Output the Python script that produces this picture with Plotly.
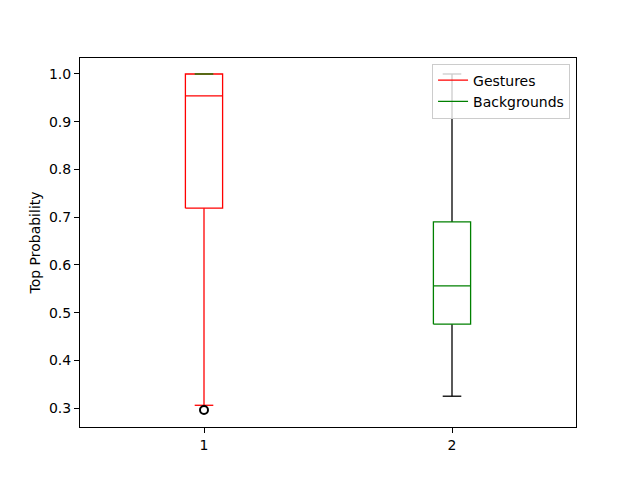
import plotly.graph_objects as go

# Data (box statistics)
positions = [1, 2]
series_names = ["Gestures", "Backgrounds"]
q1 = [0.719, 0.476]
median = [0.954, 0.556]
q3 = [1.0, 0.690]
whisker_low = [0.306, 0.325]
whisker_high = [1.0, 1.0]
fliers_x = [1]
fliers_y = [0.296]
yticks = [0.3, 0.4, 0.5, 0.6, 0.7, 0.8, 0.9, 1.0]

box_colors = ["red", "green"]
whisker_colors = ["red", "black"]
low_cap_colors = ["red", "black"]
high_cap_colors = ["green", "black"]
median_colors = ["red", "green"]

box_half = 0.075
cap_half = 0.0375
lw = 1.3

fig = go.Figure()

for i, p in enumerate(positions):
    # whiskers
    fig.add_trace(go.Scatter(
        x=[p, p, None, p, p], y=[whisker_low[i], q1[i], None, q3[i], whisker_high[i]],
        mode="lines", line=dict(color=whisker_colors[i], width=lw), showlegend=False,
        hoverinfo="skip"))
    # lower cap
    fig.add_trace(go.Scatter(
        x=[p - cap_half, p + cap_half], y=[whisker_low[i], whisker_low[i]],
        mode="lines", line=dict(color=low_cap_colors[i], width=lw), showlegend=False,
        hoverinfo="skip"))
    # box
    fig.add_trace(go.Scatter(
        x=[p - box_half, p + box_half, p + box_half, p - box_half, p - box_half],
        y=[q1[i], q1[i], q3[i], q3[i], q1[i]],
        mode="lines", line=dict(color=box_colors[i], width=lw), name=series_names[i],
        showlegend=True, hoverinfo="skip"))
    # median
    fig.add_trace(go.Scatter(
        x=[p - box_half, p + box_half], y=[median[i], median[i]],
        mode="lines", line=dict(color=median_colors[i], width=lw), showlegend=False,
        hoverinfo="skip"))
    # upper cap
    fig.add_trace(go.Scatter(
        x=[p - cap_half, p + cap_half], y=[whisker_high[i], whisker_high[i]],
        mode="lines", line=dict(color=high_cap_colors[i], width=lw), showlegend=False,
        hoverinfo="skip"))

# fliers
fig.add_trace(go.Scatter(
    x=fliers_x, y=fliers_y, mode="markers",
    marker=dict(symbol="circle-open", size=8, color="black", line=dict(width=2)),
    showlegend=False, hoverinfo="skip"))

axis_common = dict(
    showline=True, linecolor="black", linewidth=1, mirror=True,
    ticks="outside", ticklen=5, tickcolor="black", showgrid=False, zeroline=False,
    tickfont=dict(family="DejaVu Sans", size=14, color="black"),
)

fig.update_layout(
    width=640, height=480,
    margin=dict(l=72, r=72, t=50, b=61),
    plot_bgcolor="white", paper_bgcolor="white",
    font=dict(family="DejaVu Sans", size=14, color="black"),
    xaxis=dict(range=[0.5, 2.5], tickvals=positions, ticktext=["1", "2"], **axis_common),
    yaxis=dict(range=[0.2605, 1.0335], tickvals=yticks, tickformat=".1f",
               title=dict(text="Top Probability", font=dict(size=14), standoff=5),
               **axis_common),
    legend=dict(x=0.988, y=0.985, xanchor="right", yanchor="top",
                bgcolor="rgba(255,255,255,0.8)", bordercolor="#cccccc", borderwidth=1,
                font=dict(family="DejaVu Sans", size=14), itemwidth=30,
                tracegroupgap=0),
    showlegend=True,
)

fig.write_html("out.html")
